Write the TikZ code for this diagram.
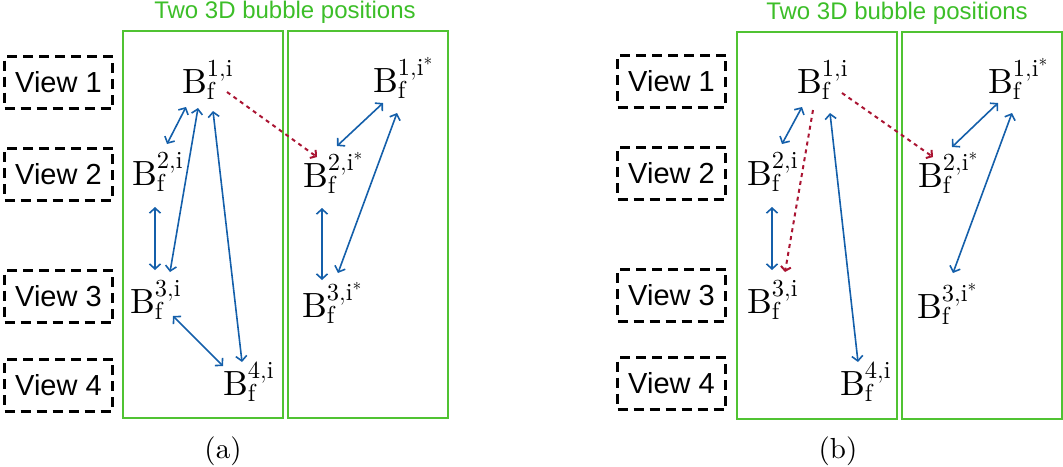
\documentclass[tikz,border=0pt]{standalone}
\usepackage{fix-cm}
\usepackage{fontspec}
\setmainfont{lmroman10-regular}[Extension=.otf]
\newfontfamily\sansf{Liberation Sans}
\usetikzlibrary{arrows.meta}
\definecolor{gboxc}{RGB}{80,195,50}
\definecolor{gtext}{RGB}{60,190,40}
\definecolor{barrow}{RGB}{20,95,170}
\definecolor{rarrow}{RGB}{170,20,50}
\begin{document}
\begin{tikzpicture}[x=1pt,y=-1pt,
  viewbox/.style={draw=black,line width=3pt,dash pattern=on 10pt off 6pt,minimum width=108pt,minimum height=52pt,inner sep=0pt,font=\sansf\fontsize{29}{34}\selectfont},
  greenbox/.style={draw=gboxc,line width=1.5pt,minimum width=160pt,minimum height=387pt,inner sep=0pt},
  titletext/.style={text=gtext,font=\sansf\fontsize{24}{28}\selectfont,inner sep=0pt},
  blab/.style={anchor=base west,inner sep=0pt,font=\fontsize{35}{40}\selectfont},
  barr/.style={draw=barrow,line width=1.6pt,{Straight Barb[length=5pt,width=11pt]}-{Straight Barb[length=5pt,width=11pt]}},
  rarr/.style={draw=rarrow,line width=2pt,dash pattern=on 4pt off 4pt,-{Straight Barb[length=4pt,width=10pt]}},
  captext/.style={anchor=base,inner sep=0pt,font=\fontsize{29}{34}\selectfont}]
\useasboundingbox (0,0) rectangle (1063,466);

% ---------- panel (a) ----------
\node[titletext] (atitle) at (285,12) {Two 3D bubble positions};
\node[greenbox] (agl) at (203,224.5) {};
\node[greenbox] (agr) at (368,224.5) {};
\node[viewbox] (av1) at (58.5,82.5) {View 1};
\node[viewbox] (av2) at (58.5,174) {View 2};
\node[viewbox] (av3) at (58.5,296.5) {View 3};
\node[viewbox] (av4) at (58.5,385) {View 4};

\node[blab] (ab1) at (182,93) {$\mathrm{B}_{\mathrm{f}}^{\mathrm{1,i}}$};
\node[blab] (ab2) at (132,185) {$\mathrm{B}_{\mathrm{f}}^{\mathrm{2,i}}$};
\node[blab] (ab3) at (130,313) {$\mathrm{B}_{\mathrm{f}}^{\mathrm{3,i}}$};
\node[blab] (ab4) at (223,395) {$\mathrm{B}_{\mathrm{f}}^{\mathrm{4,i}}$};
\node[blab] (as1) at (373,92) {$\mathrm{B}_{\mathrm{f}}^{\mathrm{1,i}^{*}}$};
\node[blab] (as2) at (303,187) {$\mathrm{B}_{\mathrm{f}}^{\mathrm{2,i}^{*}}$};
\node[blab] (as3) at (302,317) {$\mathrm{B}_{\mathrm{f}}^{\mathrm{3,i}^{*}}$};

\draw[barr] ([shift={(4,14)}]ab1.base west) -- ([shift={(35,-41)}]ab2.base west);
\draw[barr] ([shift={(16,15)}]ab1.base west) -- ([shift={(40,-41)}]ab3.base west);
\draw[barr] ([shift={(31,18)}]ab1.base west) -- ([shift={(19,-33)}]ab4.base west);
\draw[barr] ([shift={(23,22)}]ab2.base west) -- ([shift={(25,-43)}]ab3.base west);
\draw[barr] ([shift={(43,3)}]ab3.base west) -- ([shift={(0,-29)}]ab4.base west);
\draw[rarr] ([shift={(45,-1)}]ab1.base west) -- ([shift={(14,-30)}]as2.base west);
\draw[barr] ([shift={(10,11)}]as1.base west) -- ([shift={(34,-41)}]as2.base west);
\draw[barr] ([shift={(24,21)}]as1.base west) -- ([shift={(36,-44)}]as3.base west);
\draw[barr] ([shift={(19,21)}]as2.base west) -- ([shift={(20,-37)}]as3.base west);

\node[captext] (acap) at (223,458) {(a)};

% ---------- panel (b) ----------
\node[titletext] (btitle) at (897,13) {Two 3D bubble positions};
\node[greenbox] (bgl) at (817,225.5) {};
\node[greenbox] (bgr) at (982,225.5) {};
\node[viewbox] (bv1) at (671.5,81) {View 1};
\node[viewbox] (bv2) at (671.5,173) {View 2};
\node[viewbox] (bv3) at (671.5,295) {View 3};
\node[viewbox] (bv4) at (671.5,383.5) {View 4};

\node[blab] (bb1) at (797,93) {$\mathrm{B}_{\mathrm{f}}^{\mathrm{1,i}}$};
\node[blab] (bb2) at (747,185) {$\mathrm{B}_{\mathrm{f}}^{\mathrm{2,i}}$};
\node[blab] (bb3) at (747,313) {$\mathrm{B}_{\mathrm{f}}^{\mathrm{3,i}}$};
\node[blab] (bb4) at (840,395) {$\mathrm{B}_{\mathrm{f}}^{\mathrm{4,i}}$};
\node[blab] (bs1) at (988,93) {$\mathrm{B}_{\mathrm{f}}^{\mathrm{1,i}^{*}}$};
\node[blab] (bs2) at (918,187) {$\mathrm{B}_{\mathrm{f}}^{\mathrm{2,i}^{*}}$};
\node[blab] (bs3) at (917,318) {$\mathrm{B}_{\mathrm{f}}^{\mathrm{3,i}^{*}}$};

\draw[barr] ([shift={(5,14)}]bb1.base west) -- ([shift={(35,-41)}]bb2.base west);
\draw[barr] ([shift={(25,22)}]bb2.base west) -- ([shift={(25,-43)}]bb3.base west);
\draw[rarr] ([shift={(16,17)}]bb1.base west) -- ([shift={(38,-41)}]bb3.base west);
\draw[barr] ([shift={(33,20)}]bb1.base west) -- ([shift={(18,-33)}]bb4.base west);
\draw[rarr] ([shift={(45,0)}]bb1.base west) -- ([shift={(15,-30)}]bs2.base west);
\draw[barr] ([shift={(10,10)}]bs1.base west) -- ([shift={(34,-40)}]bs2.base west);
\draw[barr] ([shift={(24,20)}]bs1.base west) -- ([shift={(36,-45)}]bs3.base west);

\node[captext] (bcap) at (838,458) {(b)};
\end{tikzpicture}
\end{document}
